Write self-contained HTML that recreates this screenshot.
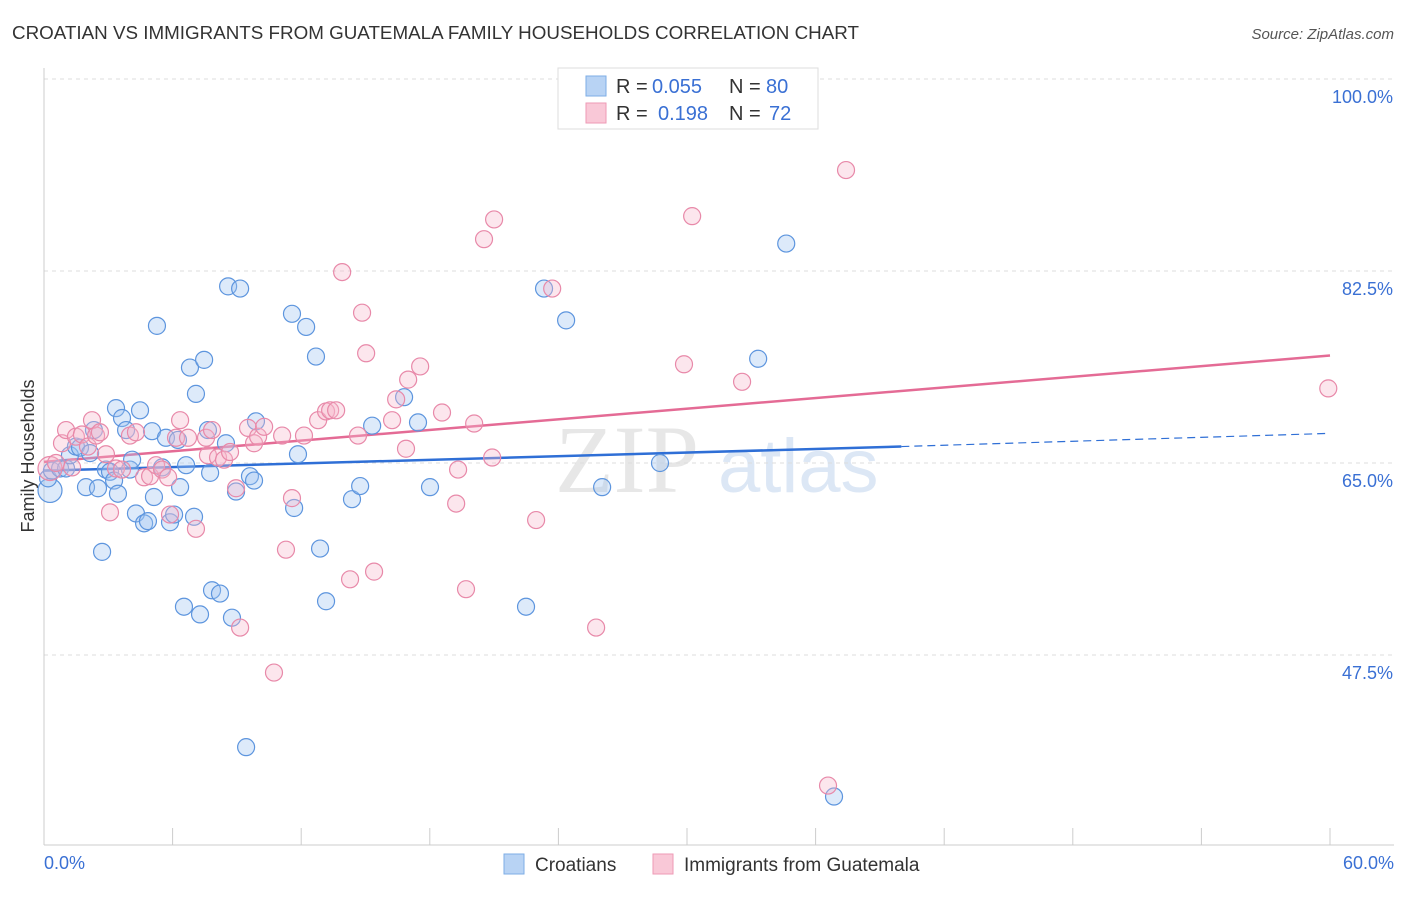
<!DOCTYPE html>
<html><head><meta charset="utf-8">
<style>
body{margin:0;background:#fff;font-family:"Liberation Sans",sans-serif;}
</style></head>
<body>
<svg id="chart" width="1406" height="892" viewBox="0 0 1406 892" xmlns="http://www.w3.org/2000/svg" style="font-family:'Liberation Sans',sans-serif">
<text x="12" y="39" font-size="18" fill="#333" textLength="847" lengthAdjust="spacingAndGlyphs">CROATIAN VS IMMIGRANTS FROM GUATEMALA FAMILY HOUSEHOLDS CORRELATION CHART</text>
<text x="1394" y="39" font-size="15" fill="#555" text-anchor="end" font-style="italic">Source: ZipAtlas.com</text>
<g>
<text x="555" y="492" font-size="96" fill="#ddd" font-family="Liberation Serif" opacity="0.7">ZIP</text>
<text x="718" y="492" font-size="76" fill="#c6d8ef" opacity="0.6">atlas</text>
</g>
<g id="grid"></g>
<g id="axes"></g>
<g id="lines"></g>
<g id="points"></g>
<text transform="translate(34,456) rotate(-90)" font-size="18" fill="#333" text-anchor="middle">Family Households</text>
<g font-size="20">
<rect x="558" y="68" width="260" height="61" fill="#fff" stroke="#ddd"/>
<rect x="586" y="76" width="20" height="20" fill="#b8d3f4" stroke="#7eaee6"/>
<rect x="586" y="103" width="20" height="20" fill="#f9c8d7" stroke="#ee9ab5"/>
<text x="616" y="93" fill="#333">R =</text>
<text x="652" y="93" fill="#3a70d4">0.055</text>
<text x="729" y="93" fill="#333">N =</text>
<text x="766" y="93" fill="#3a70d4">80</text>
<text x="616" y="120" fill="#333">R =</text>
<text x="658" y="120" fill="#3a70d4">0.198</text>
<text x="729" y="120" fill="#333">N =</text>
<text x="769" y="120" fill="#3a70d4">72</text>
</g>
<g>
<rect x="504" y="854" width="20" height="20" fill="#b8d3f4" stroke="#7eaee6"/>
<text x="535" y="871" font-size="19" fill="#333">Croatians</text>
<rect x="653" y="854" width="20" height="20" fill="#f9c8d7" stroke="#ee9ab5"/>
<text x="684" y="871" font-size="19" fill="#333">Immigrants from Guatemala</text>
</g>
</svg>
<script>
const yTicks=[100,82.5,65,47.5];
const yTickLabels=["100.0%","82.5%","65.0%","47.5%"];
const xTickLabels=["0.0%","60.0%"];
const blueX=[0.28,0.19,0.37,0.75,1.03,1.21,1.49,1.68,1.96,2.15,2.33,2.52,2.71,2.89,3.08,3.27,3.36,3.45,3.64,3.83,4.01,4.11,4.29,4.48,4.67,4.85,5.04,5.13,5.27,5.51,5.69,5.88,6.07,6.25,6.35,6.53,6.63,6.81,7.00,7.09,7.28,7.47,7.65,7.75,7.84,8.21,8.49,8.59,8.77,8.96,9.15,9.43,9.61,9.80,9.89,11.57,11.85,11.67,12.23,12.69,12.88,13.16,14.37,14.75,15.31,16.80,17.45,18.01,22.49,23.33,24.36,26.04,28.74,33.32,34.63,36.86];
const blueY=[62.5,63.6,64.3,64.5,64.5,65.7,66.5,66.4,62.8,65.9,68.0,62.7,56.9,64.4,64.2,63.4,70.0,62.2,69.1,68.0,64.4,65.3,60.4,69.8,59.5,59.7,67.9,61.9,77.5,64.6,67.3,59.6,60.3,67.1,62.8,51.9,64.8,73.7,60.1,71.3,51.2,74.4,68.0,64.1,53.4,53.1,66.8,81.1,50.9,62.4,80.9,39.1,63.8,63.4,68.8,78.6,65.8,60.9,77.4,74.7,57.2,52.4,61.7,62.9,68.4,71.0,68.7,62.8,51.9,80.9,78.0,62.8,65.0,74.5,85.0,34.6];
const pinkX=[0.28,0.56,0.84,1.03,1.31,1.49,1.77,2.05,2.24,2.43,2.61,2.89,3.08,3.36,3.64,4.01,4.29,4.67,4.95,5.23,5.51,5.79,5.88,6.16,6.35,6.72,7.09,7.56,7.65,7.84,8.12,8.40,8.68,8.96,9.15,9.52,9.80,9.99,10.27,10.73,11.11,11.29,11.57,12.13,12.79,13.16,13.35,13.63,13.91,14.28,14.65,14.84,15.03,15.40,16.24,16.43,16.89,16.99,17.55,18.57,19.23,19.32,19.69,20.07,20.53,20.91,21.00,22.96,23.71,25.76,29.86,30.24,32.57,36.58,37.42,59.92];
const pinkY=[64.5,65.0,66.8,68.0,64.6,67.4,67.6,66.5,68.9,67.5,67.8,65.8,60.5,64.5,64.4,67.5,67.8,63.7,63.8,64.8,64.4,63.7,60.3,67.3,68.9,67.3,59.0,67.3,65.7,68.0,65.5,65.3,66.0,62.7,50.0,68.2,66.8,67.4,68.3,45.9,67.5,57.1,61.8,67.5,68.9,69.7,69.8,69.8,82.4,54.4,67.5,78.7,75.0,55.1,68.9,70.8,66.3,72.6,73.8,69.6,61.3,64.4,53.5,68.6,85.4,65.5,87.2,59.8,80.9,50.0,74.0,87.5,72.4,35.6,91.7,71.8];
const blueTrend=[64.3,66.5,67.7]; // at x=0, 40 (end solid), 60 (dashed)
const pinkTrend=[65.1,74.8]; // at x=0, 60
const NS="http://www.w3.org/2000/svg";
const sx=v=>44+v*(1286/60);
const sy=v=>79+(100-v)*(192/17.5);
function mk(tag,attrs,parent){const e=document.createElementNS(NS,tag);for(const k in attrs)e.setAttribute(k,attrs[k]);document.getElementById(parent).appendChild(e);return e;}
yTicks.forEach((t,i)=>{
 const g=mk('line',{x1:44,x2:1394,y1:sy(t),y2:sy(t),stroke:'#ddd','stroke-dasharray':'4 4'},'grid');
 
 
 const l=mk('text',{x:1393,y:sy(t)+24,'font-size':18,fill:'#3a70d4','text-anchor':'end'},'grid');
 l.textContent=yTickLabels[i];
 
 
});
const ax=mk('line',{x1:44,x2:44,y1:68,y2:845,stroke:'#ccc'},'axes');


const bx=mk('line',{x1:44,x2:1394,y1:845,y2:845,stroke:'#ccc'},'axes');


for(let i=0;i<=10;i++){const t=mk('line',{x1:sx(i*6),x2:sx(i*6),y1:828,y2:845,stroke:'#ccc'},'axes');
 
 }
[[0,xTickLabels[0],'start',44],[60,xTickLabels[1],'end',1394]].forEach(a=>{
 const t=mk('text',{x:a[3],y:869,'font-size':18,fill:'#3a70d4','text-anchor':a[2]},'axes');t.textContent=a[1];
 
 });
function dots(xs,ys,fill,stroke,name){xs.forEach((x,i)=>{
 const c=mk('circle',{cx:sx(x),cy:sy(ys[i]),r:(i==0?12:8.5),fill:fill,'fill-opacity':0.35,stroke:stroke,'stroke-width':1.2},'points');
 
 });}
dots(blueX,blueY,'#9ec3f0','#5d95de','croatian-point');
dots(pinkX,pinkY,'#f7b6cb','#e889a9','guatemala-point');
let l1=mk('line',{x1:sx(0),y1:sy(blueTrend[0]),x2:sx(40),y2:sy(blueTrend[1]),stroke:'#2f6fd6','stroke-width':2.5},'lines');


let l2=mk('line',{x1:sx(40),y1:sy(blueTrend[1]),x2:sx(60),y2:sy(blueTrend[2]),stroke:'#2f6fd6','stroke-width':1.2,'stroke-dasharray':'8 5'},'lines');


let l3=mk('line',{x1:sx(0),y1:sy(pinkTrend[0]),x2:sx(60),y2:sy(pinkTrend[1]),stroke:'#e46b95','stroke-width':2.5},'lines');


</script>
</body></html>
